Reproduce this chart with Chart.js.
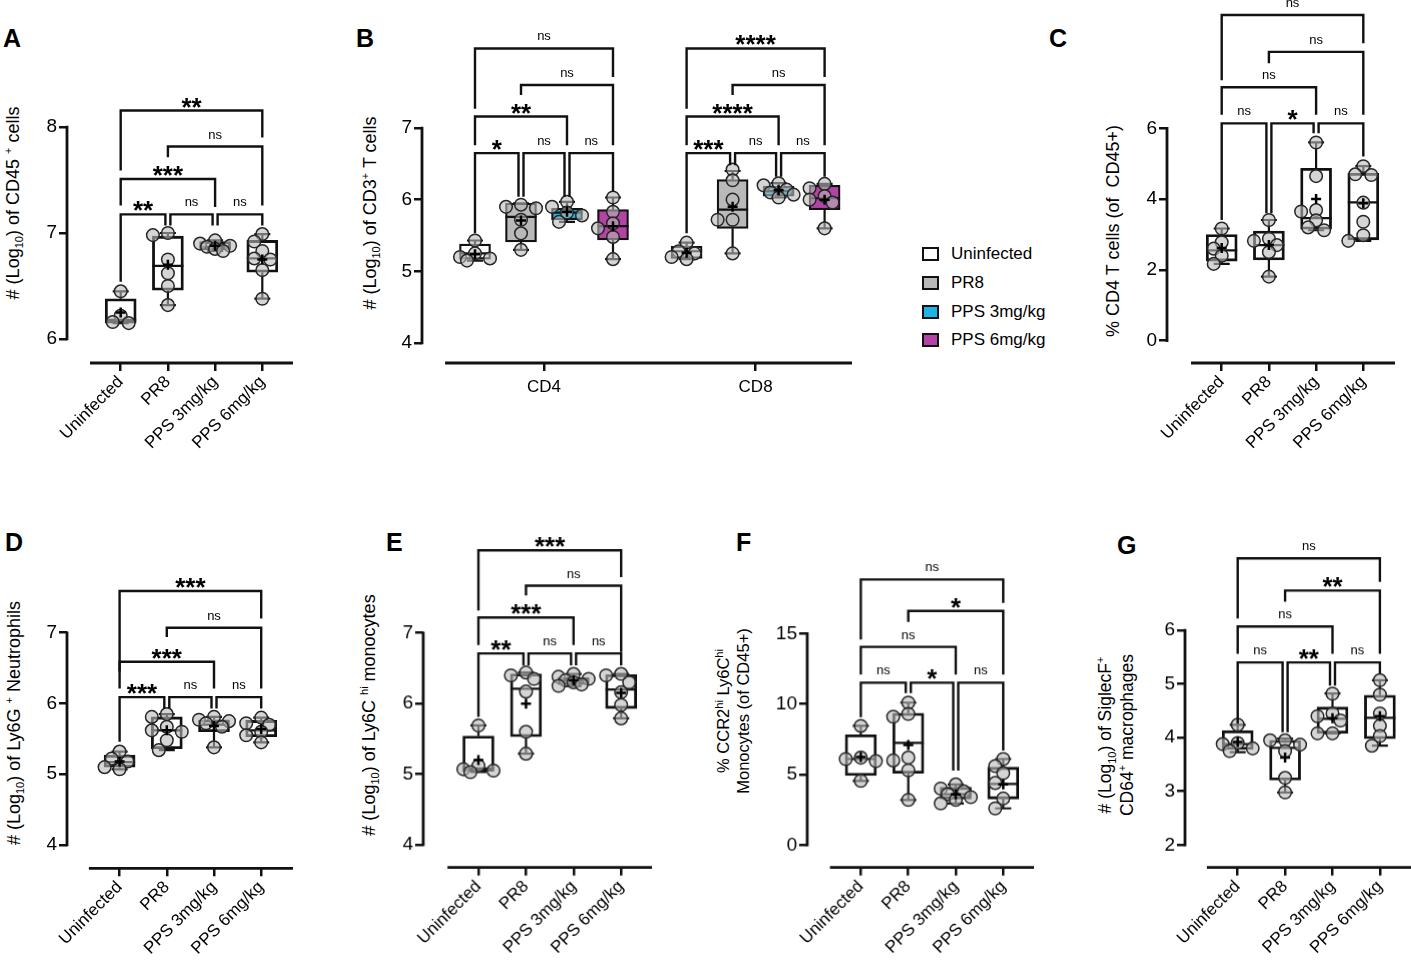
<!DOCTYPE html>
<html>
<head>
<meta charset="utf-8">
<title>Lung immune cells box plots</title>
<script src="https://cdn.jsdelivr.net/npm/chart.js@4.4.1/dist/chart.umd.min.js"></script>
<style>
  body { margin: 0; width: 1411px; height: 963px; position: relative; overflow: hidden; background: #fff;
         font-family: "Liberation Sans", Arial, sans-serif; color: #000; }
  .panel { position: absolute; }
  .letter { position: absolute; font-weight: bold; font-size: 25px; line-height: 1; }
  .ytitle { position: absolute; white-space: nowrap; text-align: center; font-size: 18px; line-height: 21px;
            transform: translate(-50%, -50%) rotate(-90deg); }
  .ytitle sub, .ytitle sup { font-size: 11px; line-height: 0; }
  .legend { position: absolute; left: 922px; top: 240px; font-size: 17px; }
  .legend div { height: 28.7px; display: flex; align-items: center; }
  .legend span { display: inline-block; width: 13px; height: 10px; border: 2.5px solid #111; margin-right: 12px; }
</style>
</head>
<body>
<div class="letter" style="left:3px;top:26px">A</div>
<div class="letter" style="left:356px;top:26px">B</div>
<div class="letter" style="left:1049px;top:26px">C</div>
<div class="letter" style="left:5px;top:530px">D</div>
<div class="letter" style="left:386px;top:530px">E</div>
<div class="letter" style="left:736px;top:530px">F</div>
<div class="letter" style="left:1117px;top:533px">G</div>

<div class="ytitle" style="left:13px;top:203px"># (Log<sub>10</sub>) of CD45 <sup>+</sup> cells</div>
<div class="ytitle" style="left:370px;top:213px"># (Log<sub>10</sub>) of CD3<sup>+</sup> T cells</div>
<div class="ytitle" style="left:1113px;top:231px">% CD4 T cells (of &nbsp;CD45+)</div>
<div class="ytitle" style="left:14px;top:723px"># (Log<sub>10</sub>) of Ly6G <sup>+</sup> Neutrophils</div>
<div class="ytitle" style="left:369px;top:715px"># (Log<sub>10</sub>) of Ly6C <sup>hi</sup> monocytes</div>
<div class="ytitle" style="left:733px;top:711px;font-size:16.5px;line-height:20px">% CCR2<sup>hi</sup> Ly6C<sup>hi</sup><br>Monocytes (of CD45+)</div>
<div class="ytitle" style="left:1116px;top:735px;font-size:17.5px;line-height:22px"># (Log<sub>10</sub>) of SiglecF<sup>+</sup><br>CD64<sup>+</sup> macrophages</div>

<div class="legend" id="legend"></div>

<script>
const FONT = '"Liberation Sans", Arial, sans-serif';
Chart.defaults.font.family = FONT;
Chart.defaults.color = '#000';

// groupes et couleurs
const groups = ['Uninfected', 'PR8', 'PPS 3mg/kg', 'PPS 6mg/kg'];
const groupFill = ['#ffffff', '#b9b9b9', '#1fb4e8', '#b443a6'];

// box rows: [min, q1, median, q3, max, mean]
// brackets: [from, to, top, left leg end, right leg end, label]

// A - CD45+
const yTicksA = [6, 7, 8];
const ptsA = [
  [6.45, 6.22, 6.16, 6.15],
  [7.0, 6.98, 6.75, 6.62, 6.5, 6.32],
  [6.93, 6.9, 6.88, 6.87, 6.85, 6.83],
  [6.99, 6.92, 6.83, 6.76, 6.75, 6.65, 6.38]
];
const boxA = [
  [6.15, 6.15, 6.18, 6.38, 6.45, 6.25],
  [6.32, 6.46, 6.69, 6.97, 7.0, 6.70],
  [6.83, 6.84, 6.87, 6.92, 6.93, 6.88],
  [6.38, 6.63, 6.76, 6.93, 6.99, 6.75]
];
const sigA = [
  [0, 3, 8.155, 7.59, 7.9, '**'],
  [1, 3, 7.816, 7.715, 7.26, 'ns'],
  [0, 2, 7.51, 7.26, 7.245, '***'],
  [0, 1, 7.176, 6.54, 7.07, '**'],
  [1, 2, 7.176, 7.07, 7.07, 'ns'],
  [2, 3, 7.176, 7.07, 7.07, 'ns']
];

// B - CD3+ T cells (CD4 / CD8)
const yTicksB = [4, 5, 6, 7];
const subsetsB = ['CD4', 'CD8'];
const ptsB = [
  [5.43, 5.25, 5.2, 5.18, 5.15],
  [5.93, 5.9, 5.88, 5.72, 5.53, 5.3],
  [5.97, 5.9, 5.82, 5.78, 5.69],
  [6.03, 5.83, 5.67, 5.6, 5.48, 5.17],
  [5.4, 5.28, 5.25, 5.2, 5.17],
  [6.42, 6.27, 6.0, 5.72, 5.72, 5.25],
  [6.23, 6.2, 6.14, 6.1, 6.07, 6.03],
  [6.22, 6.16, 6.05, 6.0, 5.96, 5.6]
];
const boxB = [
  [5.15, 5.17, 5.25, 5.38, 5.43, 5.24],
  [5.3, 5.41, 5.76, 5.95, 5.95, 5.71],
  [5.69, 5.72, 5.82, 5.88, 5.97, 5.83],
  [5.17, 5.44, 5.63, 5.86, 6.03, 5.63],
  [5.17, 5.18, 5.28, 5.35, 5.4, 5.26],
  [5.25, 5.6, 5.86, 6.28, 6.4, 5.9],
  [6.03, 6.05, 6.12, 6.19, 6.23, 6.13],
  [5.6, 5.86, 6.02, 6.2, 6.22, 6.0]
];
const sigB = [
  [0, 3, 8.11, 7.27, 7.71, 'ns'],
  [1, 3, 7.6, 7.46, 6.76, 'ns'],
  [0, 2, 7.16, 6.76, 6.76, '**'],
  [0, 1, 6.65, 5.53, 6.04, '*'],
  [1, 2, 6.65, 6.04, 6.04, 'ns'],
  [2, 3, 6.65, 6.04, 6.11, 'ns'],
  [4, 7, 8.11, 7.27, 7.71, '****'],
  [5, 7, 7.6, 7.46, 6.76, 'ns'],
  [4, 6, 7.16, 6.76, 6.76, '****'],
  [4, 5, 6.65, 5.53, 6.48, '***'],
  [5, 6, 6.65, 6.48, 6.32, 'ns'],
  [6, 7, 6.65, 6.32, 6.32, 'ns']
];

// C - % CD4 T cells
const yTicksC = [0, 2, 4, 6];
const ptsC = [
  [3.17, 2.78, 2.6, 2.4, 2.17],
  [3.41, 2.88, 2.82, 2.7, 2.5, 1.81],
  [5.6, 4.65, 3.69, 3.65, 3.4, 3.2, 3.12],
  [4.93, 4.7, 4.68, 3.9, 3.36, 2.98, 2.82]
];
const boxC = [
  [2.17, 2.25, 2.55, 3.0, 3.17, 2.62],
  [1.81, 2.28, 2.7, 3.1, 3.41, 2.7],
  [3.12, 3.15, 3.46, 4.87, 5.6, 4.0],
  [2.82, 2.85, 3.91, 4.73, 4.93, 3.88]
];
const sigC = [
  [0, 3, 9.2, 7.36, 8.4, 'ns'],
  [1, 3, 8.16, 7.84, 6.38, 'ns'],
  [0, 2, 7.16, 6.38, 6.38, 'ns'],
  [0, 1, 6.14, 3.41, 3.6, 'ns'],
  [1, 2, 6.14, 3.6, 5.86, '*'],
  [2, 3, 6.14, 5.86, 5.2, 'ns']
];

// D - Ly6G+ neutrophils
const yTicksD = [4, 5, 6, 7];
const ptsD = [
  [5.32, 5.22, 5.18, 5.1, 5.07],
  [5.85, 5.81, 5.67, 5.62, 5.6, 5.48, 5.34],
  [5.81, 5.77, 5.75, 5.72, 5.67, 5.38],
  [5.8, 5.72, 5.7, 5.6, 5.55, 5.45]
];
const boxD = [
  [5.07, 5.1, 5.17, 5.27, 5.32, 5.18],
  [5.34, 5.36, 5.62, 5.81, 5.85, 5.62],
  [5.38, 5.6, 5.7, 5.77, 5.81, 5.68],
  [5.45, 5.53, 5.62, 5.76, 5.8, 5.64]
];
const sigD = [
  [0, 3, 7.59, 6.45, 7.2, '***'],
  [1, 3, 7.07, 6.94, 6.21, 'ns'],
  [0, 2, 6.59, 6.21, 6.21, '***'],
  [0, 1, 6.09, 5.46, 5.93, '***'],
  [1, 2, 6.09, 5.93, 5.93, 'ns'],
  [2, 3, 6.09, 5.93, 5.93, 'ns']
];

// E - Ly6Chi monocytes
const yTicksE = [4, 5, 6, 7];
const ptsE = [
  [5.69, 5.12, 5.07, 5.05, 5.03],
  [6.44, 6.4, 6.35, 6.17, 5.6, 5.29],
  [6.42, 6.38, 6.35, 6.33, 6.3, 6.27, 6.25],
  [6.42, 6.4, 6.3, 6.16, 5.98, 5.79]
];
const boxE = [
  [5.03, 5.04, 5.08, 5.54, 5.69, 5.2],
  [5.29, 5.53, 6.21, 6.42, 6.44, 6.0],
  [6.25, 6.27, 6.33, 6.37, 6.42, 6.33],
  [5.79, 5.93, 6.2, 6.41, 6.42, 6.15]
];
const sigE = [
  [0, 3, 8.17, 7.32, 7.79, '***'],
  [1, 3, 7.67, 7.53, 6.73, 'ns'],
  [0, 2, 7.22, 6.83, 6.83, '***'],
  [0, 1, 6.71, 5.81, 6.54, '**'],
  [1, 2, 6.71, 6.54, 6.54, 'ns'],
  [2, 3, 6.71, 6.54, 6.54, 'ns']
];

// F - % CCR2hi Ly6Chi monocytes
const yTicksF = [0, 5, 10, 15];
const ptsF = [
  [8.45, 6.2, 6.1, 5.95, 4.55],
  [10.1, 9.3, 9.1, 6.2, 6.0, 5.3, 3.2],
  [4.3, 4.0, 3.8, 3.6, 3.4, 3.2, 2.95],
  [6.1, 5.6, 5.1, 4.4, 3.3, 2.6]
];
const boxF = [
  [4.55, 4.93, 6.1, 7.82, 8.45, 6.25],
  [3.2, 5.09, 7.25, 9.35, 10.1, 7.1],
  [2.95, 3.27, 3.6, 4.1, 4.3, 3.6],
  [2.6, 3.27, 4.33, 5.52, 6.1, 4.3]
];
const sigF = [
  [0, 3, 18.83, 14.57, 17.17, 'ns'],
  [1, 3, 16.6, 15.82, 12.08, '*'],
  [0, 2, 14.05, 12.08, 12.08, 'ns'],
  [0, 1, 11.51, 9.07, 10.78, 'ns'],
  [1, 2, 11.51, 10.78, 5.28, '*'],
  [2, 3, 11.51, 5.28, 6.7, 'ns']
];

// G - SiglecF+ CD64+ macrophages
const yTicksG = [2, 3, 4, 5, 6];
const ptsG = [
  [4.24, 3.9, 3.88, 3.8, 3.75],
  [3.95, 3.95, 3.87, 3.75, 3.25, 2.98],
  [4.82, 4.45, 4.4, 4.32, 4.08, 4.08],
  [5.07, 4.8, 4.45, 4.22, 4.03, 3.85]
];
const boxG = [
  [3.73, 3.78, 3.88, 4.13, 4.24, 3.92],
  [2.98, 3.21, 3.81, 3.95, 3.98, 3.63],
  [4.08, 4.08, 4.35, 4.57, 4.82, 4.36],
  [3.85, 3.98, 4.37, 4.79, 5.07, 4.4]
];
const sigG = [
  [0, 3, 7.34, 6.22, 6.9, 'ns'],
  [1, 3, 6.74, 6.53, 5.56, '**'],
  [0, 2, 6.07, 5.56, 5.56, 'ns'],
  [0, 1, 5.4, 4.26, 4.1, 'ns'],
  [1, 2, 5.4, 4.1, 4.97, '**'],
  [2, 3, 5.4, 4.97, 5.19, 'ns']
];

// Légende
const legend = document.getElementById('legend');
groups.forEach((g, i) => {
  const row = document.createElement('div');
  row.innerHTML = '<span style="background:' + groupFill[i] + '"></span>' + g;
  legend.appendChild(row);
});

const noFill = groups.map(() => 'rgba(255,255,255,0)');
const four = [0, 1, 2, 3];

// Mise en page de chaque panneau (pixels de la page)
const panels = [
  { pos: four, pts: ptsA, box: boxA, sig: sigA, yTicks: yTicksA, xTicks: four, xLabels: groups, fills: noFill, rot: 45,
    L: { axisX: 67, axisBottom: 363, top: 80, right: 293, x0: 120.7, dx: 47.2, lo: [6, 339], hi: [8, 127] } },
  { pos: [0, 1, 2, 3, 4.6, 5.6, 6.6, 7.6], pts: ptsB, box: boxB, sig: sigB, yTicks: yTicksB, xTicks: [1.5, 6.1], xLabels: subsetsB,
    fills: [0, 1, 2, 3, 0, 1, 2, 3].map(i => groupFill[i]), rot: 0,
    L: { axisX: 422, axisBottom: 363, top: 20, right: 852, x0: 475, dx: 46, lo: [4, 343], hi: [7, 128] } },
  { pos: four, pts: ptsC, box: boxC, sig: sigC, yTicks: yTicksC, xTicks: four, xLabels: groups, fills: noFill, rot: 45,
    L: { axisX: 1167, axisBottom: 363, top: 0, right: 1395, x0: 1221.7, dx: 47.2, lo: [0, 340.7], hi: [6, 128.3] } },
  { pos: four, pts: ptsD, box: boxD, sig: sigD, yTicks: yTicksD, xTicks: four, xLabels: groups, fills: noFill, rot: 45,
    L: { axisX: 66.7, axisBottom: 868.3, top: 562, right: 293, x0: 119.3, dx: 47.2, lo: [4, 845], hi: [7, 632.7] } },
  { pos: four, pts: ptsE, box: boxE, sig: sigE, yTicks: yTicksE, xTicks: four, xLabels: groups, fills: noFill, rot: 45,
    L: { axisX: 423.3, axisBottom: 866.7, top: 528, right: 652, x0: 478.3, dx: 47.4, lo: [4, 844], hi: [7, 632.7] } },
  { pos: four, pts: ptsF, box: boxF, sig: sigF, yTicks: yTicksF, xTicks: four, xLabels: groups, fills: noFill, rot: 45,
    L: { axisX: 807.3, axisBottom: 866.7, top: 552, right: 1034, x0: 860.7, dx: 47.3, lo: [0, 844.3], hi: [15, 633.3] } },
  { pos: four, pts: ptsG, box: boxG, sig: sigG, yTicks: yTicksG, xTicks: four, xLabels: groups, fills: noFill, rot: 45,
    L: { axisX: 1185, axisBottom: 866.7, top: 532, right: 1411, x0: 1237.7, dx: 47.4, lo: [2, 844.3], hi: [6, 630] } }
];

// Écarter les points qui se chevauchent (décalage horizontal en pixels)
function spread(values, ppu) {
  const placed = [];
  const steps = [0, -8, 8, -15, 15];
  return values.map(v => {
    const yp = v * ppu;
    let best = 0, bestD = -1;
    for (const s of steps) {
      let d = Infinity;
      placed.forEach(q => { d = Math.min(d, Math.hypot(s - q[0], yp - q[1])); });
      if (d >= 10) { best = s; bestD = d; break; }
      if (d > bestD) { bestD = d; best = s; }
    }
    placed.push([best, yp]);
    return best;
  });
}

// Moustaches, médianes, axes et crochets de significativité
function decorPlugin(p) {
  return {
    id: 'decor',
    afterDatasetDraw(chart, args) {
      if (args.index !== 0) return;
      const xs = chart.scales.x, ys = chart.scales.y, ctx = chart.ctx;
      ctx.save();
      ctx.strokeStyle = '#111';
      ctx.lineWidth = 2.2;
      p.box.forEach((b, i) => {
        const px = xs.getPixelForValue(p.pos[i]);
        const [mn, q1, md, q3, mx] = b.map(v => ys.getPixelForValue(v));
        ctx.beginPath();
        ctx.moveTo(px, q3); ctx.lineTo(px, mx);
        ctx.moveTo(px - 8, mx); ctx.lineTo(px + 8, mx);
        ctx.moveTo(px, q1); ctx.lineTo(px, mn);
        ctx.moveTo(px - 8, mn); ctx.lineTo(px + 8, mn);
        ctx.moveTo(px - 15.5, md); ctx.lineTo(px + 15.5, md);
        ctx.stroke();
      });
      ctx.restore();
    },
    afterDraw(chart) {
      const xs = chart.scales.x, ys = chart.scales.y, ctx = chart.ctx, ca = chart.chartArea;
      ctx.save();
      ctx.strokeStyle = '#111';
      ctx.lineWidth = 2.8;
      ctx.beginPath();
      ctx.moveTo(ca.left, ys.getPixelForValue(p.yTicks[0]) + 1.3);
      ctx.lineTo(ca.left, ys.getPixelForValue(p.yTicks[p.yTicks.length - 1]) - 1.3);
      ctx.moveTo(xs.getPixelForValue(-0.65), ca.bottom);
      ctx.lineTo(ca.right, ca.bottom);
      ctx.stroke();

      ctx.lineWidth = 2.4;
      ctx.lineJoin = 'miter';
      ctx.fillStyle = '#000';
      ctx.textAlign = 'center';
      ctx.textBaseline = 'alphabetic';
      p.sig.forEach(s => {
        const [i, j, top, lb, rb, label] = s;
        let xi = xs.getPixelForValue(p.pos[i]);
        let xj = xs.getPixelForValue(p.pos[j]);
        if (p.sig.some(o => o !== s && o[2] === top && o[1] === i)) xi += 2.5;
        if (p.sig.some(o => o !== s && o[2] === top && o[0] === j)) xj -= 2.5;
        const yt = ys.getPixelForValue(top);
        ctx.beginPath();
        ctx.moveTo(xi, ys.getPixelForValue(lb));
        ctx.lineTo(xi, yt);
        ctx.lineTo(xj, yt);
        ctx.lineTo(xj, ys.getPixelForValue(rb));
        ctx.stroke();
        const star = label !== 'ns';
        ctx.font = star ? 'bold 26px ' + FONT : '13px ' + FONT;
        ctx.fillText(label, (xi + xj) / 2, yt + (star ? 5 : -8));
      });
      ctx.restore();
    }
  };
}

function buildPanel(p) {
  const L = p.L;
  const left = L.axisX - 60;
  const div = document.createElement('div');
  div.className = 'panel';
  div.style.left = left + 'px';
  div.style.top = L.top + 'px';
  div.style.width = (L.right - left) + 'px';
  div.style.height = (L.axisBottom - L.top + 100) + 'px';
  const canvas = document.createElement('canvas');
  div.appendChild(canvas);
  document.body.appendChild(div);

  const ppu = (L.lo[1] - L.hi[1]) / (L.hi[0] - L.lo[0]);
  const ymin = L.lo[0] - (L.axisBottom - L.lo[1]) / ppu;
  const ymax = L.hi[0] + (L.hi[1] - L.top) / ppu;
  const xmin = (L.axisX - L.x0) / L.dx;
  const xmax = (L.right - L.x0) / L.dx;

  const points = [];
  p.pts.forEach((vals, i) => {
    const offs = spread(vals, ppu);
    vals.forEach((v, k) => points.push({ x: p.pos[i] + offs[k] / L.dx, y: v }));
  });

  new Chart(canvas, {
    type: 'scatter',
    data: {
      datasets: [
        {
          type: 'bar',
          data: p.box.map((b, i) => ({ x: p.pos[i], y: [b[1], b[3]] })),
          backgroundColor: p.fills,
          borderColor: '#111',
          borderWidth: 2.2,
          borderSkipped: false,
          barThickness: 31,
          grouped: false,
          order: 3
        },
        {
          data: points,
          pointRadius: 6.3,
          backgroundColor: 'rgba(185,185,185,0.6)',
          borderColor: '#262626',
          borderWidth: 1.5,
          order: 1
        },
        {
          data: p.box.map((b, i) => ({ x: p.pos[i], y: b[5] })),
          pointStyle: 'cross',
          pointRadius: 5,
          borderColor: '#000',
          borderWidth: 2.5,
          order: 0
        }
      ]
    },
    options: {
      responsive: true,
      maintainAspectRatio: false,
      animation: false,
      layout: { padding: 0, autoPadding: false },
      plugins: { legend: { display: false }, tooltip: { enabled: false } },
      scales: {
        x: {
          type: 'linear', min: xmin, max: xmax, offset: false,
          afterBuildTicks: s => { s.ticks = p.xTicks.map(v => ({ value: v })); },
          afterFit: s => { s.height = 100; s.paddingLeft = 0; s.paddingRight = 0; },
          ticks: {
            autoSkip: false, minRotation: p.rot, maxRotation: p.rot, padding: p.rot ? 1 : 6,
            font: { size: 17 }, color: '#000',
            callback: v => p.xLabels[p.xTicks.indexOf(v)]
          },
          grid: { offset: false, drawOnChartArea: false, drawTicks: true, tickLength: 8, color: '#111', lineWidth: 2.5 },
          border: { display: false }
        },
        y: {
          type: 'linear', min: ymin, max: ymax,
          afterBuildTicks: s => { s.ticks = p.yTicks.map(v => ({ value: v })); },
          afterFit: s => { s.width = 60; s.paddingTop = 0; s.paddingBottom = 0; },
          ticks: { font: { size: 19 }, color: '#000', padding: 2, callback: v => String(v) },
          grid: { offset: false, drawOnChartArea: false, drawTicks: true, tickLength: 8, color: '#111', lineWidth: 2.5 },
          border: { display: false }
        }
      }
    },
    plugins: [decorPlugin(p)]
  });
}

panels.forEach(buildPanel);
</script>
</body>
</html>
